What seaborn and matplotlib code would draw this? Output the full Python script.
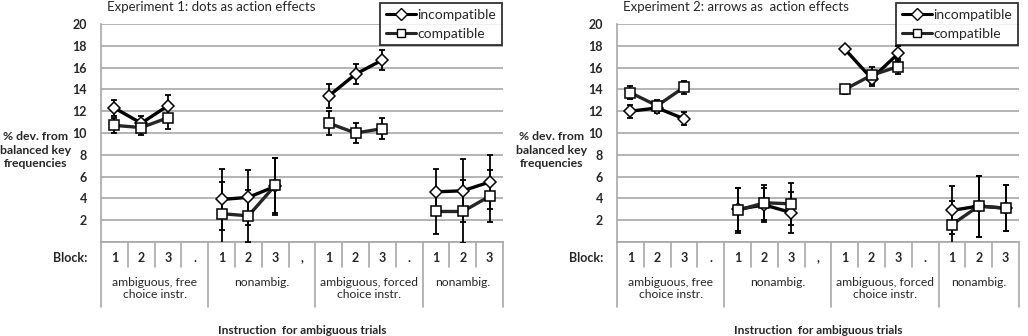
import numpy as np
import pandas as pd
import matplotlib
matplotlib.use('Agg')
import matplotlib.pyplot as plt
import seaborn as sns
from matplotlib.lines import Line2D

# 数据
cat_labels = ['1', '2', '3', '.', '1', '2', '3', ',', '1', '2', '3', '.', '1', '2', '3']
group_labels = ['ambiguous, free\nchoice instr.', 'nonambig.',
                'ambiguous, forced\nchoice instr.', 'nonambig.']
group_centers = [1.5, 5.5, 9.5, 13.0]
blocks = [1, 2, 3]

exp1_incomp = [12.3, 10.9, 12.5, 3.9, 4.1, 5.1, 13.4, 15.4, 16.7, 4.6, 4.7, 5.5]
exp1_incomp_err = [0.7, 0.7, 1.0, 2.8, 2.5, 2.6, 1.1, 0.9, 0.9, 2.1, 2.9, 2.45]
exp1_comp = [10.7, 10.5, 11.4, 2.6, 2.4, 5.2, 10.9, 10.0, 10.4, 2.8, 2.8, 4.2]
exp1_comp_err = [0.7, 0.7, 1.05, 2.9, 2.4, 2.5, 1.1, 0.9, 0.95, 2.1, 2.9, 2.4]

exp2_incomp = [12.0, 12.3, 11.3, 3.0, 3.4, 2.7, 17.7, 15.0, 17.3, 2.9, 3.3, 3.1]
exp2_incomp_err = [0.6, 0.5, 0.6, 2.0, 1.6, 1.9, 0.3, 0.7, 0.7, 2.2, 2.8, 2.1]
exp2_comp = [13.7, 12.5, 14.2, 2.9, 3.6, 3.5, 14.0, 15.3, 16.1, 1.6, 3.3, 3.1]
exp2_comp_err = [0.6, 0.5, 0.6, 2.05, 1.6, 1.95, 0.4, 0.8, 0.7, 2.2, 2.8, 2.1]

titles = ['Experiment 1: dots as action effects', 'Experiment 2: arrows as  action effects']

W, H = 1028, 336
sns.set_style('white')
plt.rcParams['font.family'] = ['Lato', 'DejaVu Sans']
plt.rcParams['font.size'] = 9

fig = plt.figure(figsize=(W / 100, H / 100), dpi=100)


def make_df(incomp, incomp_err, comp, comp_err):
    rows = []
    for cond, vals, errs in [('incompatible', incomp, incomp_err),
                             ('compatible', comp, comp_err)]:
        for i, (v, e) in enumerate(zip(vals, errs)):
            g, b = divmod(i, 3)
            rows.append({'cond': cond, 'group': g, 'block': blocks[b],
                         'pos': 4 * g + b, 'val': v, 'err': e})
    return pd.DataFrame(rows)


def draw_panel(x0, ylab_x, df, title):
    ax = fig.add_axes([x0 / W, (H - 242) / H, 402 / W, 218 / H])
    ax.set_xlim(-0.5, 14.5)
    ax.set_ylim(0, 20)
    ax.set_yticks(range(0, 21, 2))
    ax.set_yticklabels([''] + [str(v) for v in range(2, 21, 2)], fontweight='bold', fontsize=9)
    ax.set_xticks([])
    ax.grid(axis='y', color='#a8a8a8', lw=1.2)
    ax.set_axisbelow(True)
    for s in ['top', 'right']:
        ax.spines[s].set_visible(False)
    for s in ['left', 'bottom']:
        ax.spines[s].set_color('#a8a8a8')
        ax.spines[s].set_linewidth(1.2)
    ax.tick_params(axis='y', length=4, color='#a8a8a8', pad=6)

    # 误差线
    for cond in ['compatible', 'incompatible']:
        d = df[df['cond'] == cond]
        ax.errorbar(d['pos'], d['val'], yerr=d['err'], fmt='none',
                    ecolor='black', elinewidth=1.3, capsize=2.5, capthick=1.3, zorder=3)

    sns.lineplot(data=df, x='pos', y='val', hue='cond', style='cond',
                 units='group', estimator=None, ax=ax,
                 palette={'incompatible': 'black', 'compatible': '#262626'},
                 markers={'incompatible': 'D', 'compatible': 's'},
                 dashes=False, linewidth=2.4, markersize=6.5,
                 markerfacecolor='white', markeredgecolor='black', markeredgewidth=1.1,
                 legend=False, zorder=4)
    ax.set_xlabel('')
    ax.set_ylabel('')

    # 下方分类表格
    trans = ax.get_xaxis_transform()
    for k in range(16):
        xv = -0.5 + k
        long_line = k in (0, 4, 8, 12, 15)
        y_end = -65 / 218 if long_line else -25 / 218
        ax.plot([xv, xv], [0, y_end], transform=trans, color='#a8a8a8',
                lw=1.2, clip_on=False)
    for i, lab in enumerate(cat_labels):
        ax.text(i, -16 / 218, lab, transform=trans, ha='center', va='center',
                fontsize=9, fontweight='bold')
    for c, lab in zip(group_centers, group_labels):
        ax.text(c, -35 / 218, lab, transform=trans, ha='center', va='top',
                fontsize=8.7, linespacing=1.1)

    fig.text((x0 - 14) / W, 1 - 258 / H, 'Block:', ha='right', va='center',
             fontsize=9, fontweight='bold')
    fig.text((x0 + 201) / W, 1 - 330 / H, 'Instruction  for ambiguous trials',
             ha='center', va='center', fontsize=8.6, fontweight='bold')
    fig.text(ylab_x / W, 1 - 150 / H, '% dev. from\nbalanced key\nfrequencies',
             ha='center', va='center', fontsize=8.8, fontweight='bold', linespacing=1.25)
    fig.text((x0 + 6) / W, 1 - 7 / H, title, ha='left', va='center', fontsize=9.5)

    handles = [Line2D([], [], color='black', lw=2.2, marker='D', markersize=6,
                      markerfacecolor='white', markeredgecolor='black'),
               Line2D([], [], color='#262626', lw=2.2, marker='s', markersize=6,
                      markerfacecolor='white', markeredgecolor='black')]
    leg = fig.legend(handles, ['incompatible', 'compatible'],
                     loc='upper right', bbox_to_anchor=((x0 + 401) / W, 1 - 3 / H),
                     frameon=True, fancybox=False, edgecolor='black', fontsize=10,
                     handlelength=2.2, handletextpad=0.1, borderpad=0.4,
                     labelspacing=0.5, borderaxespad=0)
    leg.get_frame().set_linewidth(1.3)
    return ax


df1 = make_df(exp1_incomp, exp1_incomp_err, exp1_comp, exp1_comp_err)
df2 = make_df(exp2_incomp, exp2_incomp_err, exp2_comp, exp2_comp_err)

draw_panel(101, 36, df1, titles[0])
draw_panel(617, 552, df2, titles[1])

fig.savefig('out.png', dpi=100)
plt.close(fig)
